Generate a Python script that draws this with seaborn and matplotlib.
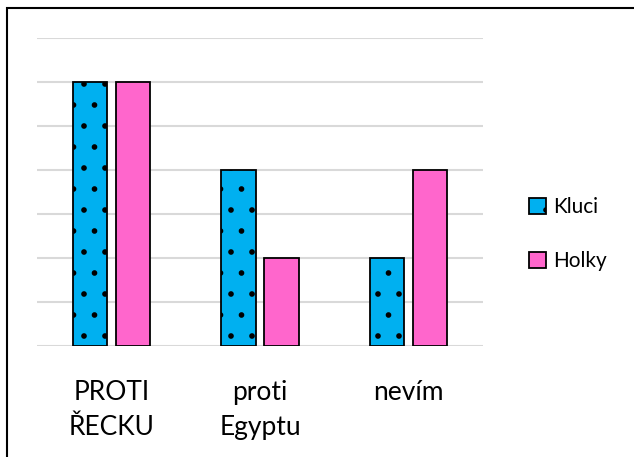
import pandas as pd
import seaborn as sns
import matplotlib.pyplot as plt
from matplotlib.patches import Patch, Rectangle

categories = ["PROTI\nŘECKU", "proti\nEgyptu", "nevím"]
kluci = [6, 4, 2]
holky = [6, 2, 4]
series = ["Kluci", "Holky"]
colors = {"Kluci": "#00b0f0", "Holky": "#ff66cc"}

df = pd.DataFrame({
    "kategorie": categories * 2,
    "pocet": kluci + holky,
    "skupina": ["Kluci"] * 3 + ["Holky"] * 3,
})

# higher dpi makes the hatch dots sparser, so point sizes are scaled down
DPI = 126
k = 100 / DPI

sns.set_style("white")
plt.rcParams["font.family"] = ["Lato", "DejaVu Sans"]
plt.rcParams["text.color"] = "black"
plt.rcParams["xtick.color"] = "black"
plt.rcParams["hatch.color"] = "black"
plt.rcParams["hatch.linewidth"] = 1.0 * k

fig = plt.figure(figsize=(634 / DPI, 457 / DPI), dpi=DPI)
ax = fig.add_axes([37 / 634, 1 - 346 / 457, 446 / 634, 308 / 457])

sns.barplot(data=df, x="kategorie", y="pocet", hue="skupina", hue_order=series,
            palette=colors, saturation=1, width=0.58, gap=0.2, edgecolor="black",
            linewidth=1.3 * k, legend=False, ax=ax)

# Kluci bars get the dotted fill
for bar in ax.containers[0]:
    bar.set_hatch(".")

ax.set_ylim(0, 7)
ax.set_xlim(-0.5, 2.5)
ax.set_yticks(range(0, 8))
ax.yaxis.grid(True, color="#d9d9d9", linewidth=1.5 * k)
ax.set_axisbelow(True)
ax.tick_params(axis="y", left=False, labelleft=False)
ax.tick_params(axis="x", bottom=False, labelsize=19 * k, pad=20 * k, labelcolor="black")
for lbl in ax.get_xticklabels():
    lbl.set_linespacing(1.5)
ax.set_xlabel("")
ax.set_ylabel("")
for s in ax.spines.values():
    s.set_visible(False)

handles = [Patch(facecolor=colors["Kluci"], edgecolor="black", hatch=".", linewidth=1.3 * k),
           Patch(facecolor=colors["Holky"], edgecolor="black", linewidth=1.3 * k)]
fig.legend(handles, series, loc="center left", bbox_to_anchor=(0.805, 0.488),
           frameon=False, fontsize=15 * k, handlelength=0.8, handleheight=0.8,
           handletextpad=0.35, labelspacing=1.65)

# outer chart frame
fig.patches.append(Rectangle((7 / 634, -0.1), 1.2, 1.1 - 8.5 / 457, transform=fig.transFigure,
                             fill=False, edgecolor="black", linewidth=1.5 * k))

fig.savefig("out.png", dpi=DPI)
